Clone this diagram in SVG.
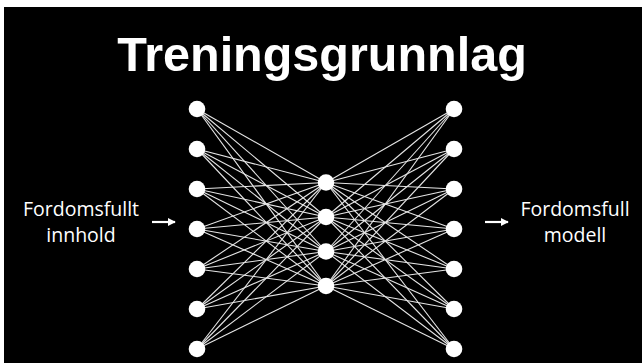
<svg xmlns="http://www.w3.org/2000/svg" width="642" height="363" viewBox="0 0 642 363">
<style>
.bg{fill:#000}
.node{fill:#fff}
.edges line{stroke:#e6e6e6;stroke-width:1.1}
.lbl{font-family:"Open Sans","Noto Sans",sans-serif;font-size:19.5px;fill:#fff;text-anchor:middle}
.title{font-family:"Liberation Sans",Arial,sans-serif;font-weight:bold;font-size:48.5px;fill:#fff;text-anchor:middle}
.edges line.arrow{stroke:#fff;stroke-width:2.2}
</style>
<defs>
<marker id="ah" viewBox="0 0 10 10" refX="9" refY="5" markerWidth="3.6" markerHeight="3.6" orient="auto" markerUnits="strokeWidth">
<path d="M0,0 L10,5 L0,10 z" fill="#fff"/>
</marker>
</defs>
<rect x="0" y="0" width="642" height="363" fill="#fff"/>
<rect class="bg" x="4" y="7" width="638" height="356"/>
<text class="title" x="322" y="71">Treningsgrunnlag</text>
<g class="edges" id="connectors">
<line x1="197" y1="109" x2="326" y2="182.5"/><line x1="197" y1="109" x2="326" y2="217"/><line x1="197" y1="109" x2="326" y2="251.5"/><line x1="197" y1="109" x2="326" y2="286"/>
<line x1="197" y1="149" x2="326" y2="182.5"/><line x1="197" y1="149" x2="326" y2="217"/><line x1="197" y1="149" x2="326" y2="251.5"/><line x1="197" y1="149" x2="326" y2="286"/>
<line x1="197" y1="189" x2="326" y2="182.5"/><line x1="197" y1="189" x2="326" y2="217"/><line x1="197" y1="189" x2="326" y2="251.5"/><line x1="197" y1="189" x2="326" y2="286"/>
<line x1="197" y1="229" x2="326" y2="182.5"/><line x1="197" y1="229" x2="326" y2="217"/><line x1="197" y1="229" x2="326" y2="251.5"/><line x1="197" y1="229" x2="326" y2="286"/>
<line x1="197" y1="269" x2="326" y2="182.5"/><line x1="197" y1="269" x2="326" y2="217"/><line x1="197" y1="269" x2="326" y2="251.5"/><line x1="197" y1="269" x2="326" y2="286"/>
<line x1="197" y1="309" x2="326" y2="182.5"/><line x1="197" y1="309" x2="326" y2="217"/><line x1="197" y1="309" x2="326" y2="251.5"/><line x1="197" y1="309" x2="326" y2="286"/>
<line x1="197" y1="349" x2="326" y2="182.5"/><line x1="197" y1="349" x2="326" y2="217"/><line x1="197" y1="349" x2="326" y2="251.5"/><line x1="197" y1="349" x2="326" y2="286"/>
<line x1="454" y1="109" x2="326" y2="182.5"/><line x1="454" y1="109" x2="326" y2="217"/><line x1="454" y1="109" x2="326" y2="251.5"/><line x1="454" y1="109" x2="326" y2="286"/>
<line x1="454" y1="149" x2="326" y2="182.5"/><line x1="454" y1="149" x2="326" y2="217"/><line x1="454" y1="149" x2="326" y2="251.5"/><line x1="454" y1="149" x2="326" y2="286"/>
<line x1="454" y1="189" x2="326" y2="182.5"/><line x1="454" y1="189" x2="326" y2="217"/><line x1="454" y1="189" x2="326" y2="251.5"/><line x1="454" y1="189" x2="326" y2="286"/>
<line x1="454" y1="229" x2="326" y2="182.5"/><line x1="454" y1="229" x2="326" y2="217"/><line x1="454" y1="229" x2="326" y2="251.5"/><line x1="454" y1="229" x2="326" y2="286"/>
<line x1="454" y1="269" x2="326" y2="182.5"/><line x1="454" y1="269" x2="326" y2="217"/><line x1="454" y1="269" x2="326" y2="251.5"/><line x1="454" y1="269" x2="326" y2="286"/>
<line x1="454" y1="309" x2="326" y2="182.5"/><line x1="454" y1="309" x2="326" y2="217"/><line x1="454" y1="309" x2="326" y2="251.5"/><line x1="454" y1="309" x2="326" y2="286"/>
<line x1="454" y1="349" x2="326" y2="182.5"/><line x1="454" y1="349" x2="326" y2="217"/><line x1="454" y1="349" x2="326" y2="251.5"/><line x1="454" y1="349" x2="326" y2="286"/>
<line class="arrow" x1="152" y1="222" x2="175" y2="222" marker-end="url(#ah)"/>
<line class="arrow" x1="485" y1="222" x2="508" y2="222" marker-end="url(#ah)"/>
</g>
<g id="in1"><circle class="node" cx="197" cy="109" r="8.3"/></g>
<g id="in2"><circle class="node" cx="197" cy="149" r="8.3"/></g>
<g id="in3"><circle class="node" cx="197" cy="189" r="8.3"/></g>
<g id="in4"><circle class="node" cx="197" cy="229" r="8.3"/></g>
<g id="in5"><circle class="node" cx="197" cy="269" r="8.3"/></g>
<g id="in6"><circle class="node" cx="197" cy="309" r="8.3"/></g>
<g id="in7"><circle class="node" cx="197" cy="349" r="8.3"/></g>
<g id="h1"><circle class="node" cx="326" cy="182.5" r="8.3"/></g>
<g id="h2"><circle class="node" cx="326" cy="217" r="8.3"/></g>
<g id="h3"><circle class="node" cx="326" cy="251.5" r="8.3"/></g>
<g id="h4"><circle class="node" cx="326" cy="286" r="8.3"/></g>
<g id="out1"><circle class="node" cx="454" cy="109" r="8.3"/></g>
<g id="out2"><circle class="node" cx="454" cy="149" r="8.3"/></g>
<g id="out3"><circle class="node" cx="454" cy="189" r="8.3"/></g>
<g id="out4"><circle class="node" cx="454" cy="229" r="8.3"/></g>
<g id="out5"><circle class="node" cx="454" cy="269" r="8.3"/></g>
<g id="out6"><circle class="node" cx="454" cy="309" r="8.3"/></g>
<g id="out7"><circle class="node" cx="454" cy="349" r="8.3"/></g>
<g id="label-in"><text class="lbl" x="81" y="216">Fordomsfullt</text><text class="lbl" x="81" y="242">innhold</text></g>
<g id="label-out"><text class="lbl" x="575" y="216">Fordomsfull</text><text class="lbl" x="575" y="242">modell</text></g>
</svg>
